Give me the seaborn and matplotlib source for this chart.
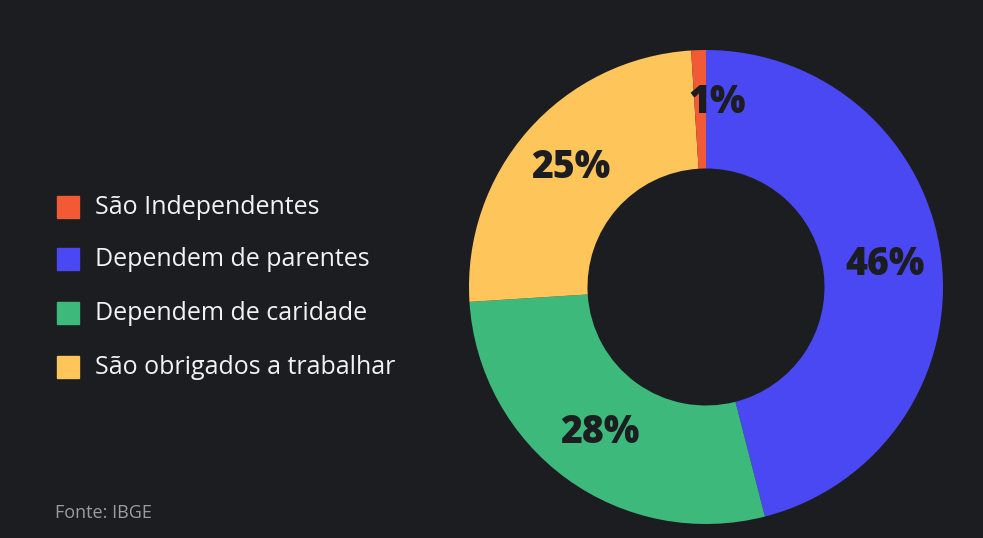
import matplotlib.pyplot as plt
import seaborn as sns

categories = ['São Independentes', 'Dependem de parentes', 'Dependem de caridade', 'São obrigados a trabalhar']
values = [1, 46, 28, 25]
colors = ['#f15a35', '#4a48f2', '#3db97c', '#fec55b']
pie_order = [1, 2, 3, 0]  # clockwise from the top: blue, green, yellow, red
source = 'Fonte: IBGE'

bg = '#1b1d21'
sns.set_theme(style='white', rc={'font.family': 'Open Sans'})

fig = plt.figure(figsize=(9.83, 5.38), dpi=100, facecolor=bg)

# donut
cx, cy, r = 706, 287, 237
ax = fig.add_axes([(cx - r) / 983, (538 - cy - r) / 538, 2 * r / 983, 2 * r / 538])
ax.set_facecolor(bg)
wedges, _, autotexts = ax.pie(
    [values[i] for i in pie_order], colors=[colors[i] for i in pie_order],
    startangle=90, counterclock=False, radius=1,
    wedgeprops=dict(width=0.5, edgecolor='none'),
    autopct='%d%%', pctdistance=0.76,
    textprops=dict(color='#1b1d21', fontsize=27, fontweight='heavy'))
# nudge the small-slice label to the right like the original
x0, y0 = autotexts[3].get_position()
autotexts[3].set_position((x0 + 0.07, y0 + 0.02))
ax.set_xlim(-1, 1)
ax.set_ylim(-1, 1)
ax.set_aspect('equal')
ax.axis('off')

# legend
ys = [207, 259, 313, 367]
for lab, col, y in zip(categories, colors, ys):
    fy = 1 - y / 538
    fig.patches.append(plt.Rectangle((57 / 983, fy - 11 / 538), 22 / 983, 22 / 538,
                                     transform=fig.transFigure, color=col, figure=fig))
    fig.text(95 / 983, fy, lab, color='#f2f2f2', fontsize=18, fontweight='medium',
             va='center', ha='left')

fig.text(55 / 983, 1 - 513 / 538, source, color='#9a9ca0', fontsize=13, va='center')

fig.savefig('out.png', dpi=100, facecolor=bg)
